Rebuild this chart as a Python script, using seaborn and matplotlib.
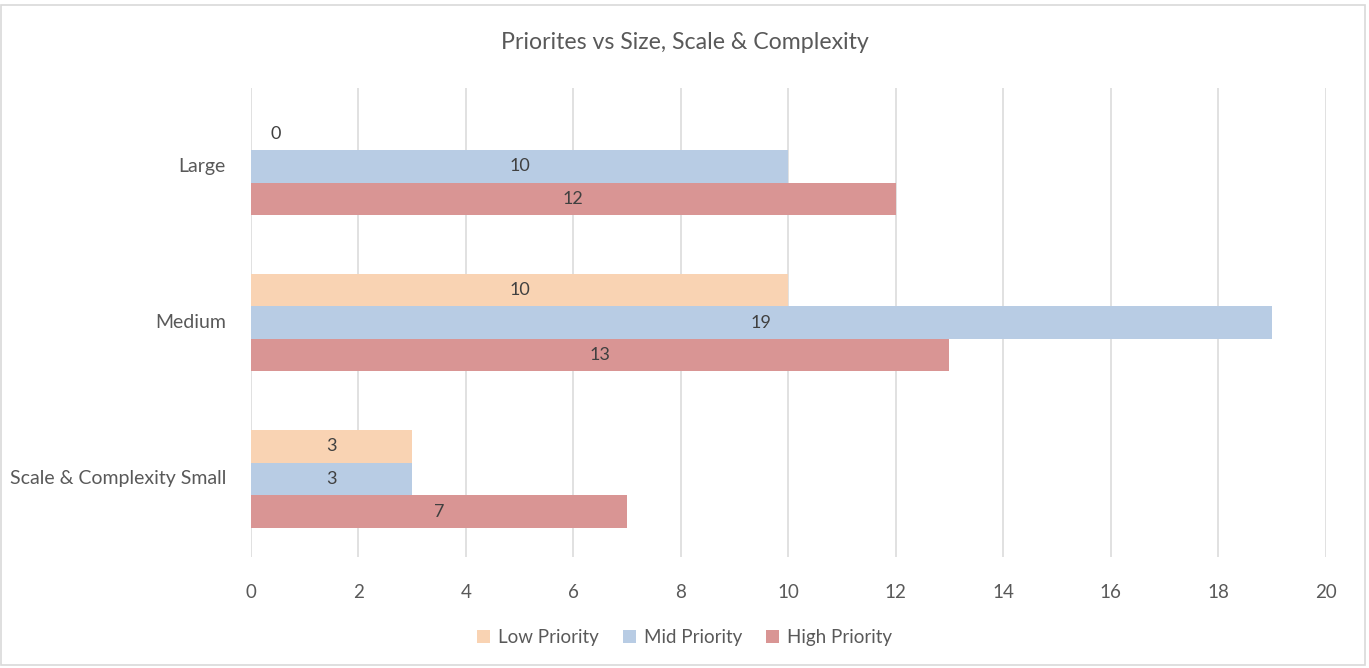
import pandas as pd
import matplotlib
matplotlib.use("Agg")
import matplotlib.pyplot as plt
from matplotlib.patches import Rectangle
import seaborn as sns

sns.set_theme(style="whitegrid")
plt.rcParams['font.family'] = ['Lato', 'DejaVu Sans']

categories = ["Large", "Medium", "Scale & Complexity Small"]
priorities = ["Low Priority", "Mid Priority", "High Priority"]
low_values = [0, 10, 3]
mid_values = [10, 19, 3]
high_values = [12, 13, 7]
x_ticks = [0, 2, 4, 6, 8, 10, 12, 14, 16, 18, 20]
colors = ["#F9D3B3", "#B8CCE4", "#D99594"]

df = pd.DataFrame({
    "category": categories * 3,
    "priority": [p for p in priorities for _ in categories],
    "value": low_values + mid_values + high_values,
})

fig = plt.figure(figsize=(13.69, 6.68), dpi=100)
ax = fig.add_axes([0.1833, 0.166, 0.7850, 0.702])

sns.barplot(data=df, y="category", x="value", hue="priority",
            order=categories, hue_order=priorities, palette=colors,
            width=0.625, orient="h", saturation=1, linewidth=0,
            ax=ax, legend=True)

text_col = "#595959"
for container in ax.containers:
    vals = container.datavalues
    ax.bar_label(container, labels=[f"{v:g}" if v > 0 else "" for v in vals],
                 label_type="center", fontsize=13, color="#404040")
    ax.bar_label(container, labels=["0" if v == 0 else "" for v in vals],
                 label_type="edge", padding=14, fontsize=13, color="#404040")

ax.set_xlim(0, 20)
ax.set_ylim(2.5, -0.5)
ax.set_xticks(x_ticks)
ax.set_xlabel("")
ax.set_ylabel("")
ax.grid(axis="x", color="#D9D9D9", linewidth=1.1)
ax.grid(axis="y", visible=False)
for s in ax.spines.values():
    s.set_visible(False)
ax.tick_params(axis="x", colors=text_col, labelsize=13.5, pad=19, length=0)
ax.tick_params(axis="y", colors=text_col, labelsize=14, pad=18, length=0)
for lbl in ax.get_yticklabels():
    lbl.set_va("top")
    lbl.set_y(lbl.get_position()[1])
ax.set_yticks(range(len(categories)), categories, va="center")
ax.tick_params(axis="y", which="major")
ax.set_facecolor("white")

ax.legend(loc="center", bbox_to_anchor=(0.5, 0.045), bbox_transform=fig.transFigure,
          ncol=3, frameon=False, fontsize=13.5, handlelength=0.7, handleheight=0.7,
          handletextpad=0.4, columnspacing=1.3, labelcolor=text_col)

fig.text(0.5, 0.937, "Priorites vs Size, Scale & Complexity", ha="center", va="center",
         fontsize=16.7, color=text_col)

fig.patches.append(Rectangle((0.001, 0.004), 0.996, 0.988, transform=fig.transFigure,
                             fill=False, edgecolor="#D9D9D9", linewidth=1.2))

fig.savefig("out.png", dpi=100, facecolor="white")
